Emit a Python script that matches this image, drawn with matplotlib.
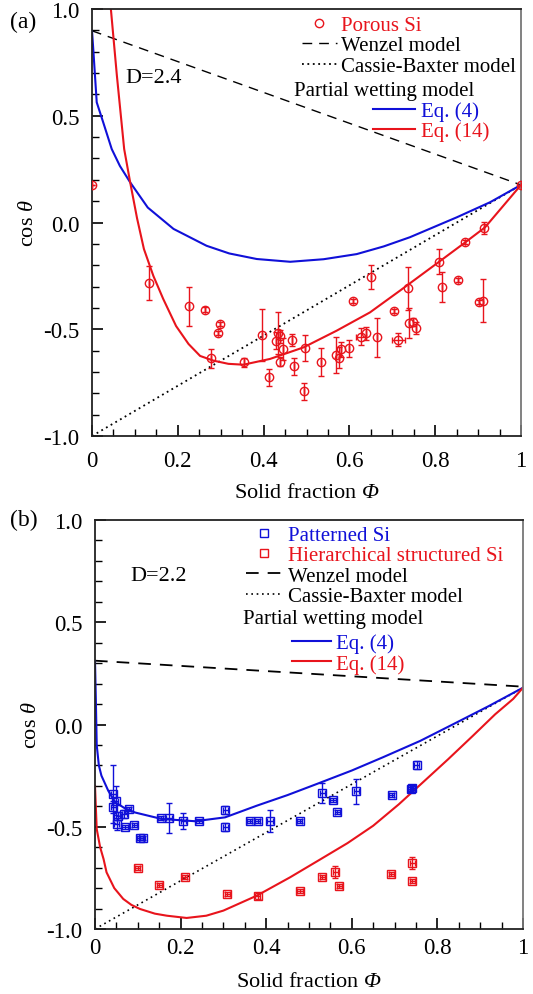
import numpy as np
import matplotlib
matplotlib.use('Agg')
import matplotlib.pyplot as plt
from matplotlib.ticker import MultipleLocator

plt.rcParams['font.family'] = ['Liberation Serif', 'DejaVu Serif']
plt.rcParams['mathtext.fontset'] = 'custom'
plt.rcParams['mathtext.rm'] = 'Liberation Serif'
plt.rcParams['mathtext.it'] = 'Liberation Serif:italic'
# italic capital Greek (mathtext forces \mathit capitals upright)
plt.rcParams['mathtext.sf'] = 'Liberation Serif:italic'

RED = '#e8141c'
BLUE = '#1010d8'

# ---- panel (a): porous Si, D=2.4 ----
a_phi = [0.0, 0.134, 0.225, 0.264, 0.277, 0.293, 0.298, 0.354, 0.396, 0.412,
         0.429, 0.434, 0.438, 0.438, 0.446, 0.466, 0.471, 0.495, 0.497, 0.533,
         0.568, 0.576, 0.580, 0.599, 0.609, 0.627, 0.638, 0.650, 0.665, 0.704,
         0.714, 0.736, 0.739, 0.749, 0.755, 0.809, 0.817, 0.852, 0.869, 0.901,
         0.912, 0.914, 1.0]
a_cos = [0.177, -0.285, -0.393, -0.408, -0.636, -0.516, -0.477, -0.655, -0.527, -0.724,
         -0.553, -0.518, -0.533, -0.652, -0.593, -0.550, -0.674, -0.791, -0.588, -0.655,
         -0.621, -0.633, -0.593, -0.589, -0.366, -0.536, -0.519, -0.255, -0.538, -0.413,
         -0.549, -0.308, -0.471, -0.465, -0.494, -0.183, -0.302, -0.269, -0.090, -0.374,
         -0.366, -0.026, 0.176]
a_err = [0.0, 0.08, 0.09, 0.012, 0.045, 0.01, 0.01, 0.02, 0.12, 0.04,
         0.04, 0.10, 0.03, 0.02, 0.05, 0.03, 0.04, 0.04, 0.06, 0.065,
         0.085, 0.05, 0.035, 0.04, 0.01, 0.04, 0.03, 0.055, 0.09, 0.01,
         0.03, 0.10, 0.07, 0.02, 0.03, 0.06, 0.07, 0.01, 0.01, 0.01,
         0.10, 0.03, 0.0]
a_xerr = [0.0] * 25 + [0.012] + [0.0] * 4 + [0.015] + [0.0] * 12

a_wenzel_x = [0.0, 1.0]
a_wenzel_y = [0.898, 0.176]
a_cb_x = [0.0, 1.0]
a_cb_y = [-1.0, 0.176]
a_eq4_x = [0.0, 0.003, 0.011, 0.026, 0.046, 0.065, 0.089, 0.13, 0.19, 0.267, 0.32, 0.384,
           0.462, 0.54, 0.617, 0.68, 0.741, 0.85, 0.928, 1.0]
a_eq4_y = [0.898, 0.81, 0.563, 0.47, 0.344, 0.265, 0.188, 0.07, -0.03, -0.109, -0.145, -0.171,
           -0.184, -0.172, -0.148, -0.112, -0.069, 0.024, 0.095, 0.176]
a_eq14_x = [0.035, 0.044, 0.058, 0.075, 0.089, 0.105, 0.121, 0.143, 0.166, 0.196, 0.225,
            0.252, 0.283, 0.318, 0.353, 0.415, 0.493, 0.57, 0.648, 0.718, 0.807, 0.87,
            0.916, 1.0]
a_eq14_y = [1.3, 1.0, 0.688, 0.344, 0.188, 0.02, -0.124, -0.25, -0.358, -0.485, -0.569,
            -0.625, -0.647, -0.662, -0.666, -0.639, -0.585, -0.507, -0.421, -0.319, -0.187,
            -0.093, -0.023, 0.176]

# ---- panel (b): patterned / hierarchical Si, D=2.2 ----
pat_phi = [0.043, 0.048, 0.043, 0.054, 0.051, 0.068, 0.079, 0.070, 0.092, 0.105,
           0.111, 0.154, 0.173, 0.206, 0.243, 0.304, 0.304, 0.361, 0.380, 0.409,
           0.478, 0.531, 0.556, 0.566, 0.610, 0.693, 0.738, 0.741, 0.752]
pat_cos = [-0.34, -0.373, -0.405, -0.446, -0.487, -0.438, -0.413, -0.503, -0.491, -0.557,
           -0.557, -0.457, -0.457, -0.473, -0.473, -0.42, -0.50, -0.473, -0.473, -0.47,
           -0.473, -0.336, -0.37, -0.428, -0.327, -0.345, -0.315, -0.31, -0.198]
pat_err = [0.14, 0.07, 0.03, 0.02, 0.03, 0.02, 0.01, 0.01, 0.01, 0.01,
           0.01, 0.01, 0.075, 0.04, 0.01, 0.02, 0.02, 0.01, 0.01, 0.054,
           0.01, 0.05, 0.01, 0.01, 0.06, 0.01, 0.01, 0.01, 0.02]

hier_phi = [0.100, 0.150, 0.210, 0.309, 0.380, 0.479, 0.531, 0.561, 0.571, 0.692, 0.741, 0.741]
hier_cos = [-0.702, -0.783, -0.744, -0.829, -0.837, -0.816, -0.744, -0.723, -0.788, -0.731,
            -0.679, -0.764]
hier_err = [0.01, 0.01, 0.01, 0.01, 0.015, 0.01, 0.01, 0.03, 0.01, 0.01, 0.03, 0.01]

b_wenzel_x = [0.0, 1.0]
b_wenzel_y = [0.312, 0.185]
b_cb_x = [0.0, 1.0]
b_cb_y = [-1.0, 0.18]
b_eq4_x = [0.0, 0.002, 0.004, 0.009, 0.015, 0.031, 0.047, 0.07, 0.093, 0.156, 0.234, 0.304,
           0.378, 0.45, 0.518, 0.6, 0.673, 0.76, 0.845, 0.92, 1.0]
b_eq4_y = [0.31, 0.12, -0.1, -0.2, -0.25, -0.324, -0.38, -0.41, -0.43, -0.462, -0.473, -0.454,
           -0.397, -0.345, -0.291, -0.225, -0.16, -0.08, 0.01, 0.09, 0.18]
b_eq14_x = [0.0, 0.004, 0.012, 0.02, 0.027, 0.045, 0.066, 0.085, 0.105, 0.14, 0.168, 0.214,
            0.26, 0.30, 0.378, 0.456, 0.526, 0.59, 0.65, 0.71, 0.766, 0.825, 0.883, 0.935,
            0.977, 1.0]
b_eq14_y = [-0.3, -0.511, -0.6, -0.658, -0.723, -0.8, -0.853, -0.882, -0.902, -0.925, -0.935,
            -0.946, -0.935, -0.91, -0.837, -0.747, -0.66, -0.58, -0.495, -0.39, -0.283,
            -0.17, -0.055, 0.05, 0.125, 0.18]

fig = plt.figure(figsize=(5.33, 9.95), dpi=100)
ax1 = fig.add_axes([92 / 533, 1 - 437 / 995, 429 / 533, 427 / 995])
ax2 = fig.add_axes([95 / 533, 1 - 930 / 995, 428 / 533, 409 / 995])


def style_axes(ax, xpad, xlpad):
    ax.set_xlim(0, 1)
    ax.set_ylim(-1, 1)
    ax.xaxis.set_minor_locator(MultipleLocator(0.05))
    ax.yaxis.set_minor_locator(MultipleLocator(0.1))
    ax.set_xticks([0, 0.2, 0.4, 0.6, 0.8, 1.0], ['0', '0.2', '0.4', '0.6', '0.8', '1'])
    ax.set_yticks([-1, -0.5, 0, 0.5, 1], ['-1.0', '-0.5', '0.0', '0.5', '1.0'])
    ax.tick_params(which='both', direction='in', top=False, right=False, labelsize=16.5)
    ax.tick_params(axis='y', which='major', length=8, width=1.2, pad=9)
    ax.tick_params(axis='x', which='major', length=8, width=1.2, pad=xpad)
    ax.tick_params(which='minor', length=5, width=1.0)
    for s in ['left', 'bottom', 'top']:
        ax.spines[s].set_linewidth(1.3)
        ax.spines[s].set_color('#222222')
    ax.spines['right'].set_color('#777777')
    ax.spines['right'].set_linewidth(1.3)
    ax.set_xlabel('Solid fraction $\\mathsf{Φ}$', fontsize=16, labelpad=xlpad)
    ax.set_ylabel('cos $\\mathit{θ}$', fontsize=16, labelpad=4)


style_axes(ax1, 10, 9)
style_axes(ax2, 6, 10)

# panel (a)
ax1.plot(a_wenzel_x, a_wenzel_y, color='black', lw=1.0, dashes=(7, 5), label='Wenzel model')
ax1.plot(a_cb_x, a_cb_y, color='black', lw=1.3, dashes=(1, 2.0), label='Cassie-Baxter model')
ax1.plot(a_eq4_x, a_eq4_y, color=BLUE, lw=1.5, label='Eq. (4)')
ax1.plot(a_eq14_x, a_eq14_y, color=RED, lw=1.5, label='Eq. (14)')
por = ax1.errorbar(a_phi, a_cos, yerr=a_err, xerr=a_xerr, fmt='o', mfc='none', mec=RED, ms=6,
                   mew=1.0, ecolor=RED, elinewidth=1.0, capsize=2.5, capthick=1.0,
                   zorder=5)

h, l = ax1.get_legend_handles_labels()
d = dict(zip(l, h))
leg1 = ax1.legend([por[0], d['Wenzel model'], d['Cassie-Baxter model']],
                  ['Porous Si', 'Wenzel model', 'Cassie-Baxter model'],
                  loc='upper left', bbox_to_anchor=(0.49, 0.985), frameon=False,
                  fontsize=15, handlelength=1.65, handletextpad=0.2, labelspacing=0.04,
                  borderpad=0, borderaxespad=0, numpoints=1)
leg1.get_texts()[0].set_color(RED)
ax1.add_artist(leg1)
leg2 = ax1.legend([d['Eq. (4)'], d['Eq. (14)']], ['Eq. (4)', 'Eq. (14)'],
                  loc='upper left', bbox_to_anchor=(0.655, 0.783), frameon=False,
                  fontsize=15, handlelength=2.0, handletextpad=0.3, labelspacing=0.0,
                  borderpad=0, borderaxespad=0)
leg2.get_texts()[0].set_color(BLUE)
leg2.get_texts()[1].set_color(RED)
ax1.text(0.471, 0.81, 'Partial wetting model', transform=ax1.transAxes, fontsize=15,
         va='center', ha='left')
ax1.text(0.077, 0.68, 'D=2.4', transform=ax1.transData, fontsize=16, va='center')

# panel (b)
ax2.plot(b_wenzel_x, b_wenzel_y, color='black', lw=1.3, dashes=(7, 5), label='Wenzel model')
ax2.plot(b_cb_x, b_cb_y, color='black', lw=1.2, dashes=(1, 2.2), label='Cassie-Baxter model')
ax2.plot(b_eq4_x, b_eq4_y, color=BLUE, lw=1.5, label='Eq. (4)')
ax2.plot(b_eq14_x, b_eq14_y, color=RED, lw=1.5, label='Eq. (14)')
pat = ax2.errorbar(pat_phi, pat_cos, yerr=pat_err, xerr=0.006, fmt='s', mfc='none', mec=BLUE,
                   ms=6, mew=1.0, ecolor=BLUE, elinewidth=1.0, capsize=2.5, capthick=1.0,
                   zorder=5)
hie = ax2.errorbar(hier_phi, hier_cos, yerr=hier_err, xerr=0.006, fmt='s', mfc='none', mec=RED,
                   ms=6, mew=1.0, ecolor=RED, elinewidth=1.0, capsize=2.5, capthick=1.0,
                   zorder=5)

h, l = ax2.get_legend_handles_labels()
d = dict(zip(l, h))
leg3 = ax2.legend([pat[0], hie[0], d['Wenzel model'], d['Cassie-Baxter model']],
                  ['Patterned Si', 'Hierarchical structured Si', 'Wenzel model',
                   'Cassie-Baxter model'],
                  loc='upper left', bbox_to_anchor=(0.353, 0.987), frameon=False, fontsize=15,
                  handlelength=1.7, handletextpad=0.33, labelspacing=0.04,
                  borderpad=0, borderaxespad=0, numpoints=1)
leg3.get_texts()[0].set_color(BLUE)
leg3.get_texts()[1].set_color(RED)
ax2.add_artist(leg3)
leg4 = ax2.legend([d['Eq. (4)'], d['Eq. (14)']], ['Eq. (4)', 'Eq. (14)'],
                  loc='upper left', bbox_to_anchor=(0.46, 0.723), frameon=False,
                  fontsize=15, handlelength=1.9, handletextpad=0.24, labelspacing=0.04,
                  borderpad=0, borderaxespad=0)
leg4.get_texts()[0].set_color(BLUE)
leg4.get_texts()[1].set_color(RED)
ax2.text(0.346, 0.76, 'Partial wetting model', transform=ax2.transAxes, fontsize=15,
         va='center', ha='left')
ax2.text(0.082, 0.731, 'D=2.2', transform=ax2.transData, fontsize=16, va='center')

fig.text(10 / 533, 1 - 22 / 995, '(a)', fontsize=17, va='center', ha='left')
fig.text(10 / 533, 1 - 520 / 995, '(b)', fontsize=17, va='center', ha='left')

fig.savefig('out.png', dpi=100)
